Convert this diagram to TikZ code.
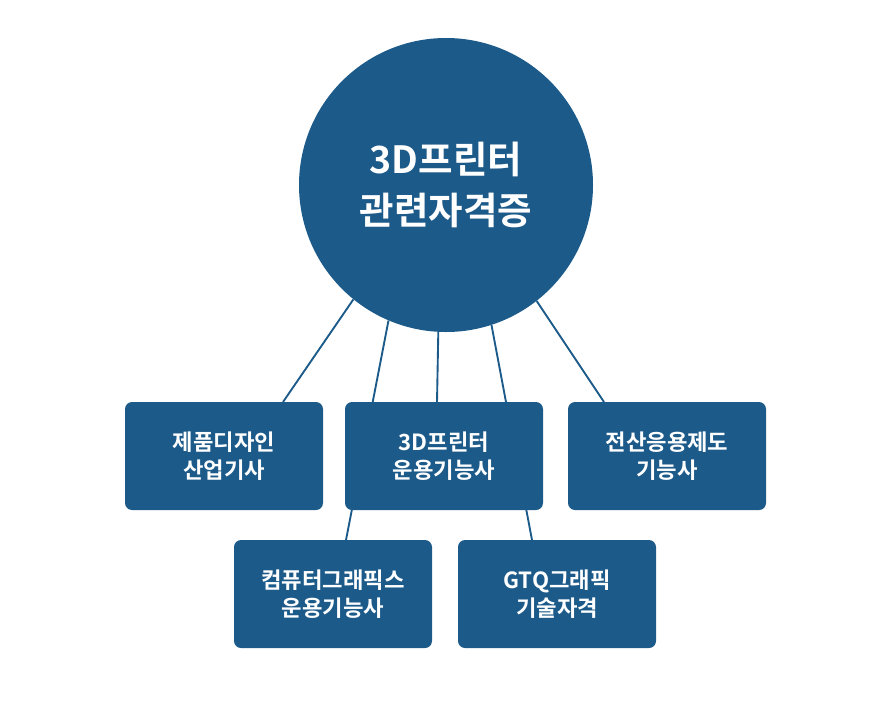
\documentclass[tikz,border=0pt]{standalone}
\usepackage{fontspec}
\newfontfamily\kr{Noto Sans CJK KR}[BoldFont={Noto Sans CJK KR Bold}]
\usetikzlibrary{positioning}
\definecolor{navy}{HTML}{1C5A8A}
\tikzset{
  card/.style={fill=navy, rounded corners=6pt, minimum width=198*0.03cm, minimum height=108*0.03cm,
    text=white, align=center, font=\kr\bfseries\fontsize{19}{24}\selectfont},
  link/.style={draw=navy, line width=1.6pt}
}
\begin{document}
\begin{tikzpicture}[x=0.03cm, y=-0.03cm]
    \useasboundingbox (0,0) rectangle (891,717);
    % Nodes
    \node [circle, fill=navy, minimum size=294*0.03cm, text=white, align=center,
           font=\kr\bfseries\fontsize{32}{44}\selectfont] (c) at (446,185) {3D프린터\\관련자격증};
    \coordinate (e1) at (283,402);
    \coordinate (e2) at (346,540);
    \coordinate (e3) at (437,402);
    \coordinate (e4) at (532,540);
    \coordinate (e5) at (604,402);

    % Paths
    \path [link] (c.-129.5) -- (e1);
    \path [link] (c.-113) -- (e2);
    \path [link] (c.-93.5) -- (e3);
    \path [link] (c.-72) -- (e4);
    \path [link] (c.-52) -- (e5);

    \node [card] (b1) at (224,456) {제품디자인\\산업기사};
    \node [card] (b2) at (444,456) {3D프린터\\운용기능사};
    \node [card] (b3) at (667,456) {전산응용제도\\기능사};
    \node [card] (b4) at (333,594) {컴퓨터그래픽스\\운용기능사};
    \node [card] (b5) at (557,594) {GTQ그래픽\\기술자격};
\end{tikzpicture}
\end{document}
